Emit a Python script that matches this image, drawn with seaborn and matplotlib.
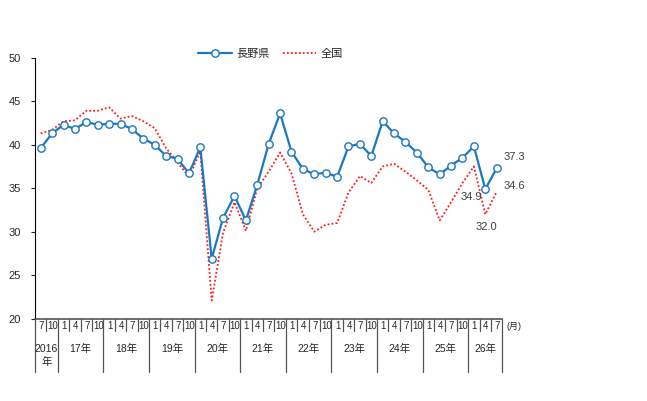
import numpy as np
import pandas as pd
import matplotlib
matplotlib.use("Agg")
import matplotlib.pyplot as plt
import matplotlib.transforms as mtransforms
import seaborn as sns

# quarterly survey values, 2016 Jul .. 2026 Jul
months = ["7", "10"] + ["1", "4", "7", "10"] * 9 + ["1", "4", "7"]
years = ["2016\n年", "17年", "18年", "19年", "20年", "21年", "22年", "23年", "24年", "25年", "26年"]
year_len = [2] + [4] * 9 + [3]

nagano = [39.6, 41.3, 42.3, 41.8, 42.6, 42.3, 42.4, 42.4, 41.8, 40.7,
          40.0, 38.7, 38.4, 36.7, 39.7, 26.9, 31.6, 34.1, 31.3, 35.4,
          40.1, 43.6, 39.2, 37.2, 36.6, 36.8, 36.3, 39.8, 40.1, 38.7,
          42.7, 41.3, 40.3, 39.1, 37.4, 36.6, 37.6, 38.5, 39.8, 34.9,
          37.3]
zenkoku = [41.3, 41.7, 42.7, 42.8, 43.9, 43.9, 44.3, 43.0, 43.3, 42.7,
           41.9, 39.6, 38.0, 36.3, 39.2, 22.1, 29.9, 33.4, 30.1, 35.0,
           36.9, 39.1, 36.7, 32.0, 30.0, 30.8, 31.0, 34.5, 36.4, 35.6,
           37.5, 37.8, 36.9, 35.9, 34.8, 31.3, 33.4, 35.6, 37.5, 32.0,
           34.6]

df = pd.DataFrame({"idx": np.arange(len(months)), "長野県": nagano, "全国": zenkoku})

sns.set_style("white")
plt.rcParams["font.family"] = ["Liberation Sans", "Noto Sans CJK JP"]

fig = plt.figure(figsize=(6.47, 4.01), dpi=100)
ax = fig.add_axes([0.0541, 0.2052, 0.7224, 0.6509])

blue = "#1a78c2"
red = "#ff1a1a"
sns.lineplot(data=df, x="idx", y="長野県", ax=ax, color=blue, linewidth=1.6,
             marker="o", markersize=5.3, markerfacecolor="white",
             markeredgecolor=blue, markeredgewidth=1.0, label="長野県", zorder=3)
sns.lineplot(data=df, x="idx", y="全国", ax=ax, color=red, linewidth=1.3,
             linestyle=(0, (1, 1.2)), label="全国", zorder=2)

ax.set_xlim(-0.5, len(months) - 0.5)
ax.set_ylim(20, 50)
ax.set_yticks(range(20, 51, 5))
ax.tick_params(axis="y", direction="out", length=3, width=0.8, labelsize=8, pad=7, left=True)
ax.set_xticks([])
ax.set_xlabel("")
ax.set_ylabel("")
for s in ["top", "right"]:
    ax.spines[s].set_visible(False)
ax.spines["left"].set_color("black")
ax.spines["left"].set_linewidth(0.8)
ax.spines["bottom"].set_color("#555555")
ax.spines["bottom"].set_linewidth(1.2)

# category table below the axis
trans = mtransforms.blended_transform_factory(ax.transData, ax.transAxes)
row1 = -0.046
row2 = -0.205
for i, m in enumerate(months):
    ax.text(i + 0.05, -0.026, m, transform=trans, ha="center", va="center", fontsize=7)
year_edges = np.cumsum([0] + year_len) - 0.5
for i in range(len(months) + 1):
    x = i - 0.5
    bottom = row2 if x in year_edges else row1
    ax.plot([x, x], [0, bottom], transform=trans, color="#555555", lw=0.9, clip_on=False)
for k, y in enumerate(years):
    c = (year_edges[k] + year_edges[k + 1]) / 2
    ax.text(c, -0.117 if k else -0.14, y, transform=trans, ha="center", va="center",
            fontsize=7.5, linespacing=1.4)
ax.text(len(months) - 0.1, -0.03, "(月)", transform=trans, ha="left", va="center", fontsize=6.5)

# value labels at the last points
lab = dict(textcoords="offset pixels", fontsize=8, color="#404040", va="center")
ax.annotate(f"{nagano[-1]:.1f}", (40, nagano[-1]), xytext=(7, 11), ha="left", **lab)
ax.annotate(f"{zenkoku[-1]:.1f}", (40, zenkoku[-1]), xytext=(7, 6), ha="left", **lab)
ax.annotate(f"{nagano[-2]:.1f}", (39, nagano[-2]), xytext=(-3, -8), ha="right", **lab)
ax.annotate(f"{zenkoku[-2]:.1f}", (39, zenkoku[-2]), xytext=(1, -13), ha="center", **lab)

ax.legend(loc="center", bbox_to_anchor=(0.418, 0.866), bbox_transform=fig.transFigure,
          ncol=2, frameon=False, fontsize=8, handlelength=3.0, columnspacing=1.2,
          handletextpad=0.4)

fig.savefig("out.png", dpi=100)
